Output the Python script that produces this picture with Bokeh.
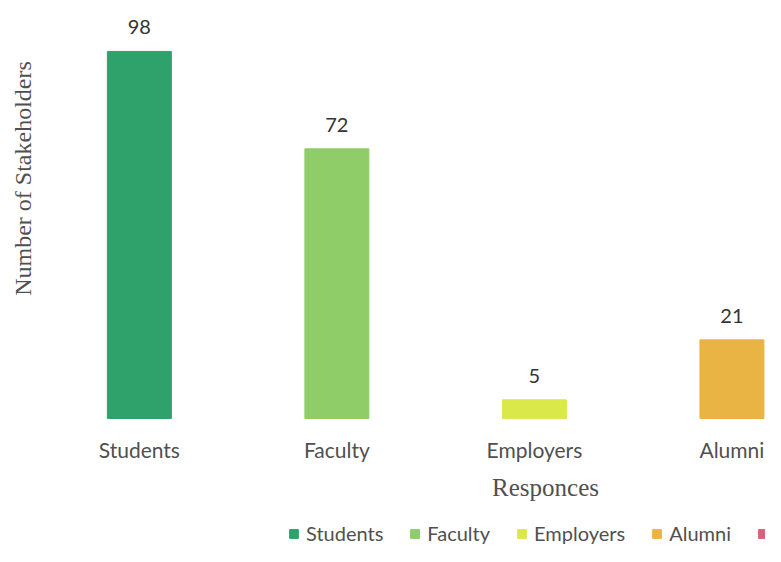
import math
from bokeh.plotting import figure
from bokeh.models import ColumnDataSource, Legend, LegendItem, Range1d, LabelSet, Label
from bokeh.core.properties import value
from bokeh.embed import file_html
from bokeh.resources import INLINE

categories = ["Students", "Faculty", "Employers", "Alumni"]
counts = [98, 72, 5, 21]
colors = ["#2fa26c", "#8fcd68", "#dbe84a", "#eab445"]
legend_labels = ["Students", "Faculty", "Employers", "Alumni", ""]
legend_colors = ["#2fa26c", "#8fcd68", "#dbe84a", "#eab445", "#d9607a"]
y_title = "Number of Stakeholders"
x_title = "Responces"

xs = list(range(len(categories)))
src = ColumnDataSource(dict(x=xs, top=counts, base=[0] * len(xs), color=colors,
                            cat=categories, lbl=[str(c) for c in counts]))

p = figure(width=765, height=546, output_backend="svg", toolbar_location=None,
           x_range=Range1d(-0.703, 3.17), y_range=Range1d(-34.18, 111.6),
           min_border=0)
p.outline_line_color = None
p.grid.grid_line_color = None
p.xaxis.visible = False
p.yaxis.visible = False

r = p.vbar(x="x", top="top", bottom="base", width=0.324, color="color", source=src)

vals = LabelSet(x="x", y="top", text="lbl", source=src, y_offset=17,
                text_align="center", text_baseline="bottom",
                text_font=value("Lato"), text_font_size="20px", text_color="#333333")
p.add_layout(vals)

cats = LabelSet(x="x", y="base", text="cat", source=src, y_offset=-31,
                text_align="center", text_baseline="middle",
                text_font=value("Lato"), text_font_size="21px", text_color="#505050")
p.add_layout(cats)

xlab = Label(x=545, y=59, x_units="screen", y_units="screen", text=x_title,
             text_align="center", text_baseline="middle",
             text_font="Liberation Serif", text_font_size="25px", text_color="#505050")
p.add_layout(xlab)

ylab = Label(x=22, y=368, x_units="screen", y_units="screen", text=y_title,
             angle=math.pi / 2, text_align="center", text_baseline="middle",
             text_font="Liberation Serif", text_font_size="24px", text_color="#505050")
p.add_layout(ylab)

items = []
for lab, col in zip(legend_labels, legend_colors):
    g = p.vbar(x=[0], top=[0], width=0.1, color=col, visible=False)
    items.append(LegendItem(label=value(lab if lab else " "), renderers=[g]))
leg = Legend(items=items, orientation="horizontal", location=(288, 1),
             label_text_font="Lato", label_text_font_size="20px", label_text_color="#505050",
             glyph_width=11, glyph_height=11, spacing=26, label_standoff=7,
             border_line_color=None, background_fill_alpha=0, padding=0, margin=0)
p.add_layout(leg)

open("out.html", "w").write(file_html(p, INLINE))
